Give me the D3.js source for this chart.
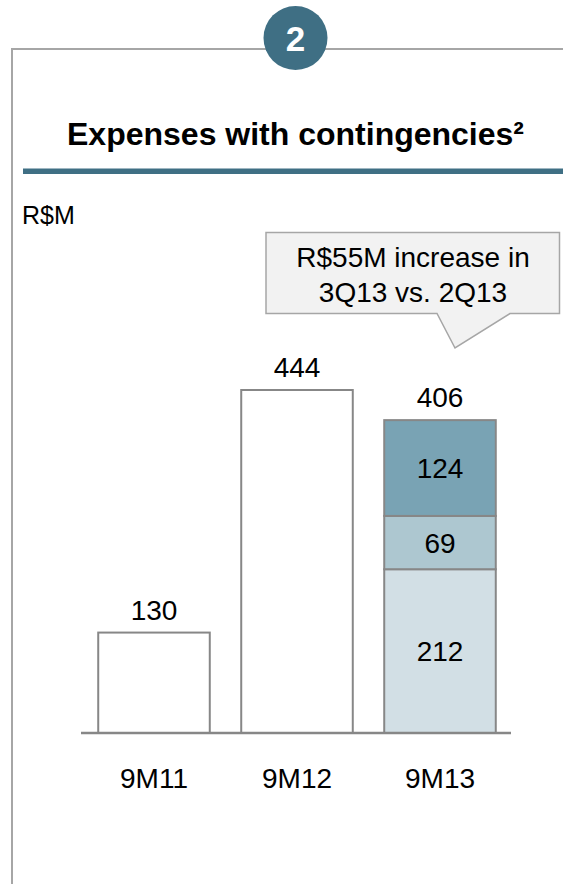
<!DOCTYPE html>
<html>
<head>
<meta charset="utf-8">
<script src="https://cdn.jsdelivr.net/npm/d3@7"></script>
<style>
  html, body { margin: 0; padding: 0; background: #fff; }
  svg { display: block; font-family: "Liberation Sans", Arial, sans-serif; }
</style>
</head>
<body>
<svg id="chart" width="563" height="884"></svg>
<script>
// Expenses with contingencies, R$ millions
const categories = ["9M11", "9M12", "9M13"];
const totals = [130, 444, 406];
// 9M13 breakdown, bottom to top
const breakdownValues = [212, 69, 124];
const breakdownColors = ["#d2dfe5", "#adc7d0", "#79a3b4"];

const panelNumber = "2";
const title = "Expenses with contingencies²";
const unitLabel = "R$M";
const calloutLines = ["R$55M increase in", "3Q13 vs. 2Q13"];

const svg = d3.select("#chart");
const teal = "#3f6f84";
const frameGray = "#a6a6a6";
const barStroke = "#878787";

// Panel frame
svg.append("path")
  .attr("d", "M12,884 V49 H563")
  .attr("fill", "none")
  .attr("stroke", frameGray)
  .attr("stroke-width", 2);

// Numbered badge
svg.append("circle")
  .attr("cx", 295.5).attr("cy", 38).attr("r", 32)
  .attr("fill", teal);
svg.append("text")
  .attr("x", 295.5).attr("y", 51)
  .attr("text-anchor", "middle")
  .attr("font-size", 35).attr("font-weight", "bold")
  .attr("fill", "#fff")
  .text(panelNumber);

// Title and rule
svg.append("text")
  .attr("x", 295.5).attr("y", 145)
  .attr("text-anchor", "middle")
  .attr("font-size", 32).attr("font-weight", "bold")
  .attr("fill", "#000")
  .text(title);
svg.append("rect")
  .attr("x", 23).attr("y", 168.5).attr("width", 540).attr("height", 5.5)
  .attr("fill", teal);

svg.append("text")
  .attr("x", 22).attr("y", 224)
  .attr("font-size", 25)
  .attr("fill", "#000")
  .text(unitLabel);

// Scales
const x = d3.scaleBand()
  .domain(categories)
  .range([82.5, 511.5])
  .paddingInner(0.22)
  .paddingOuter(0.11);
const y = d3.scaleLinear()
  .domain([0, 444])
  .range([733, 390]);

// Single bars (first two periods)
const simple = categories.slice(0, 2).map((c, i) => ({ cat: c, value: totals[i] }));
svg.append("g").selectAll("rect")
  .data(simple)
  .join("rect")
  .attr("x", d => x(d.cat))
  .attr("y", d => y(d.value))
  .attr("width", x.bandwidth())
  .attr("height", d => y(0) - y(d.value))
  .attr("fill", "#fff")
  .attr("stroke", barStroke)
  .attr("stroke-width", 2);

// Stacked bar (last period)
const stackCat = categories[2];
let acc = 0;
const segments = breakdownValues.map((v, i) => {
  const s = { y0: acc, y1: acc + v, value: v, color: breakdownColors[i] };
  acc += v;
  return s;
});
const segG = svg.append("g");
segG.selectAll("rect")
  .data(segments)
  .join("rect")
  .attr("x", x(stackCat))
  .attr("y", d => y(d.y1))
  .attr("width", x.bandwidth())
  .attr("height", d => y(d.y0) - y(d.y1))
  .attr("fill", d => d.color)
  .attr("stroke", barStroke)
  .attr("stroke-width", 2);
segG.selectAll("text")
  .data(segments)
  .join("text")
  .attr("x", x(stackCat) + x.bandwidth() / 2)
  .attr("y", d => (y(d.y0) + y(d.y1)) / 2 + 10)
  .attr("text-anchor", "middle")
  .attr("font-size", 28)
  .attr("fill", "#000")
  .text(d => d.value);

// Total labels above bars
const stackTop = segments[segments.length - 1].y1;
svg.append("g").selectAll("text")
  .data(categories.map((c, i) => ({ cat: c, value: totals[i], top: i === 2 ? stackTop : totals[i] })))
  .join("text")
  .attr("x", d => x(d.cat) + x.bandwidth() / 2)
  .attr("y", d => y(d.top) - 13)
  .attr("text-anchor", "middle")
  .attr("font-size", 28)
  .attr("fill", "#000")
  .text(d => d.value);

// Category axis
const axis = svg.append("g")
  .attr("transform", `translate(0,${y(0)})`)
  .call(d3.axisBottom(x).tickSize(0).tickSizeOuter(0));
axis.select(".domain")
  .attr("stroke", barStroke)
  .attr("stroke-width", 2.5)
  .attr("d", "M81,0 H511");
axis.selectAll(".tick text")
  .attr("y", 55).attr("dy", 0)
  .attr("font-size", 28)
  .attr("font-family", "Liberation Sans, Arial, sans-serif")
  .attr("fill", "#000");

// Callout
const callout = svg.append("g");
callout.append("path")
  .attr("d", "M266,232.5 H559.5 V313.5 H510 L455,348 L437,313.5 H266 Z")
  .attr("fill", "#f2f2f2")
  .attr("stroke", frameGray)
  .attr("stroke-width", 1.5);
callout.selectAll("text")
  .data(calloutLines)
  .join("text")
  .attr("x", 413)
  .attr("y", (d, i) => 267 + i * 35)
  .attr("text-anchor", "middle")
  .attr("font-size", 28)
  .attr("fill", "#000")
  .text(d => d);
</script>
</body>
</html>
